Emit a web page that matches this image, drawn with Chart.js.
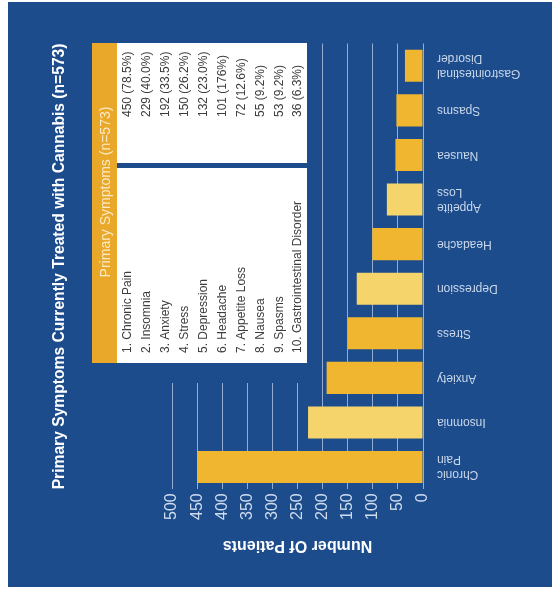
<!DOCTYPE html>
<html>
<head>
<meta charset="utf-8">
<script src="https://cdn.jsdelivr.net/npm/chart.js@4.4.1/dist/chart.umd.min.js"></script>
<style>
  html, body { margin: 0; padding: 0; background: #fff; }
  canvas { display: block; }
</style>
</head>
<body>
<canvas id="chart" width="552" height="595"></canvas>
<script>
// Symptom names as listed in the summary table
const symptoms = ['Chronic Pain', 'Insomnia', 'Anxiety', 'Stress', 'Depression', 'Headache',
                  'Appetite Loss', 'Nausea', 'Spasms', 'Gastrointestinal Disorder'];
// Same categories, wrapped for the bar labels
const barLabels = [['Chronic', 'Pain'], 'Insomnia', 'Anxiety', 'Stress', 'Depression', 'Headache',
                   ['Appetite', 'Loss'], 'Nausea', 'Spasms', ['Gastrointestinal', 'Disorder']];
// Number of patients per symptom (n=573)
const patients = [450, 229, 192, 150, 132, 101, 72, 55, 53, 36];
// Share of patients, as printed in the table
const percents = ['78.5', '40.0', '33.5', '26.2', '23.0', '176', '12.6', '9.2', '9.2', '6.3'];
// Value axis ticks
const patientTicks = [0, 50, 100, 150, 200, 250, 300, 350, 400, 450, 500];

const FONT = '"Liberation Sans", Arial, Helvetica, sans-serif';
const BLUE = '#1c4c8c';
const GOLD = '#f1b62f';
const PALE = '#f6d46c';
const lightBars = ['Insomnia', 'Depression', 'Appetite Loss'];
const barColors = symptoms.map(s => lightBars.includes(s) ? PALE : GOLD);

// draws text turned by angle around (x, y)
function turnedText(ctx, text, x, y, angle, align) {
    ctx.save();
    ctx.translate(x, y);
    ctx.rotate(angle);
    ctx.textAlign = align;
    ctx.fillText(text, 0, 0);
    ctx.restore();
}

// white sheet with the blue panel
const backdrop = {
    id: 'backdrop',
    beforeDraw(chart) {
        const ctx = chart.ctx;
        ctx.save();
        ctx.fillStyle = '#fff';
        ctx.fillRect(0, 0, chart.width, chart.height);
        ctx.fillStyle = BLUE;
        ctx.fillRect(8, 2, chart.width - 8, 585);
        ctx.restore();
    }
};

// summary table over the upper part of the grid
const summaryTable = {
    id: 'summaryTable',
    beforeDatasetsDraw(chart) {
        const ctx = chart.ctx;
        ctx.save();
        ctx.fillStyle = BLUE;
        ctx.fillRect(85, 2, 230, 381);
        ctx.fillStyle = '#e9a82a';
        ctx.fillRect(92, 43, 25, 320);
        ctx.fillStyle = '#fff';
        ctx.fillRect(117, 43, 190, 320);
        ctx.fillStyle = BLUE;
        ctx.fillRect(117, 163, 190, 5);

        ctx.textBaseline = 'middle';
        ctx.font = '14px ' + FONT;
        ctx.fillStyle = '#fbebc4';
        turnedText(ctx, 'Primary Symptoms (n=573)', 106, 192, -Math.PI / 2, 'center');

        ctx.font = '12px ' + FONT;
        ctx.fillStyle = '#3c3c3c';
        symptoms.forEach((name, i) => {
            const x = 128 + i * 18.9;
            turnedText(ctx, (i + 1) + '. ' + name, x, 353, -Math.PI / 2, 'left');
            turnedText(ctx, patients[i] + ' (' + percents[i] + '%)', x, 117, -Math.PI / 2, 'left');
        });
        ctx.restore();
    }
};

// upside-down category labels and value axis title
const barText = {
    id: 'barText',
    afterDraw(chart) {
        const ctx = chart.ctx;
        const yScale = chart.scales.y;
        const area = chart.chartArea;
        ctx.save();
        ctx.textBaseline = 'middle';
        ctx.font = '12px ' + FONT;
        ctx.fillStyle = '#c9d7ea';
        barLabels.forEach((label, i) => {
            const lines = [].concat(label);
            const cy = yScale.getPixelForValue(i);
            ctx.save();
            ctx.translate(area.right + 14, cy);
            ctx.rotate(Math.PI);
            ctx.textAlign = 'right';
            lines.forEach((ln, k) => ctx.fillText(ln, 0, (k - (lines.length - 1) / 2) * 15));
            ctx.restore();
        });
        ctx.font = 'bold 16px ' + FONT;
        ctx.fillStyle = '#ffffff';
        turnedText(ctx, 'Number Of Patients', (area.left + area.right) / 2, 545, Math.PI, 'center');
        ctx.restore();
    }
};

const ctx = document.getElementById('chart').getContext('2d');
new Chart(ctx, {
    type: 'bar',
    data: {
        labels: barLabels,
        datasets: [{
            data: patients,
            backgroundColor: barColors,
            borderWidth: 0,
            barPercentage: 0.72,
            categoryPercentage: 1
        }]
    },
    options: {
        indexAxis: 'y',
        responsive: false,
        animation: false,
        layout: { padding: { left: 0, right: 129, top: 43.5, bottom: 71 } },
        plugins: {
            legend: { display: false },
            tooltip: { enabled: false },
            title: {
                display: true,
                text: 'Primary Symptoms Currently Treated with Cannabis (n=573)',
                position: 'left',
                fullSize: false,
                color: '#ffffff',
                font: { family: FONT, size: 16, weight: 'bold' },
                padding: { top: 50.4, bottom: 102.4 }
            }
        },
        scales: {
            x: {
                reverse: true,
                min: 0,
                max: 500,
                position: 'bottom',
                afterBuildTicks: axis => { axis.ticks = patientTicks.map(v => ({ value: v })); },
                grid: { color: 'rgba(185,205,232,0.75)', drawTicks: false },
                border: { display: false },
                ticks: {
                    minRotation: 90,
                    maxRotation: 90,
                    padding: 4,
                    color: '#cfdcee',
                    font: { family: FONT, size: 16 }
                }
            },
            y: { display: false, reverse: true }
        }
    },
    plugins: [backdrop, summaryTable, barText]
});
</script>
</body>
</html>
